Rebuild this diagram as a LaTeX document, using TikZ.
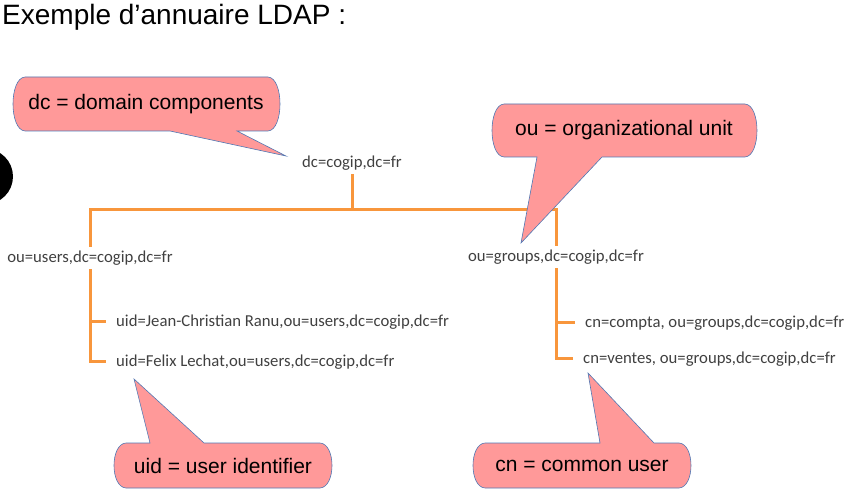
\documentclass[tikz,border=0pt]{standalone}
\usepackage{fontspec}
\setmainfont{Liberation Sans}
\newfontfamily\entryfont{Carlito}
\definecolor{branchorange}{RGB}{248,150,60}
\definecolor{bubblefill}{RGB}{255,153,153}
\definecolor{bubbleline}{RGB}{80,120,180}
\definecolor{entrygray}{RGB}{64,64,64}
\begin{document}
\begin{tikzpicture}[x=1pt,y=-1pt,line width=0.4pt,
  entry/.style={font=\entryfont\fontsize{16.7}{20}\selectfont,text=entrygray,inner sep=4pt},
  note/.style={font=\fontsize{21}{24}\selectfont,inner sep=0pt},
  branch/.style={draw=branchorange,line width=3pt},
  bubble/.style={fill=bubblefill,draw=bubbleline,line width=0.6pt}]
\useasboundingbox (0,0) rectangle (847,497);
\node[anchor=base west,font=\fontsize{28}{32}\selectfont,inner sep=0pt] (title) at (2,25) {Exemple d’annuaire LDAP :};
\fill (-14.7,176.5) circle[radius=27.7];
% entries
\node[entry] (root) at (352,163) {dc=cogip,dc=fr};
\node[entry] (users) at (90,258) {ou=users,dc=cogip,dc=fr};
\node[entry] (groups) at (556,257) {ou=groups,dc=cogip,dc=fr};
\node[entry,anchor=west] (jean) at (112,322) {uid=Jean-Christian Ranu,ou=users,dc=cogip,dc=fr};
\node[entry,anchor=west] (felix) at (112,362) {uid=Felix Lechat,ou=users,dc=cogip,dc=fr};
\node[entry,anchor=west] (compta) at (581,323) {cn=compta, ou=groups,dc=cogip,dc=fr};
\node[entry,anchor=west] (ventes) at (579,359) {cn=ventes, ou=groups,dc=cogip,dc=fr};
% tree
\coordinate (J) at (352,210);
\draw[branch] (root.south) -- (J);
\draw[branch] (users.north) |- (J) -| (groups.north);
\draw[branch,shorten >=6pt] (users.south) |- (felix.west);
\draw[branch,shorten >=6pt] (jean.west -| users.south) -- (jean.west);
\draw[branch,shorten >=6pt] (groups.south) |- (ventes.west);
\draw[branch,shorten >=6pt] (compta.west -| groups.south) -- (compta.west);
% callouts
\draw[bubble] (25,77) -- (268,77) .. controls (284,78) and (284,130) .. (268,131) -- (237,131) -- (286,156) -- (170,131) -- (25,131) .. controls (9,130) and (9,78) .. (25,77) -- cycle;
\draw[bubble] (504,104) -- (745,104) .. controls (761,105) and (761,156) .. (745,157) -- (602,157) -- (521,243) -- (537,157) -- (504,157) .. controls (488,156) and (488,105) .. (504,104) -- cycle;
\draw[bubble] (126,443) -- (150,443) -- (134,379) -- (204,443) -- (320,443) .. controls (336,444) and (336,487) .. (320,488) -- (126,488) .. controls (110,487) and (110,444) .. (126,443) -- cycle;
\draw[bubble] (485,443) -- (600,443) -- (588,373) -- (654,443) -- (679,443) .. controls (695,444) and (695,487) .. (679,488) -- (485,488) .. controls (469,487) and (469,444) .. (485,443) -- cycle;
\node[note] (dcnote) at (146,104) {dc = domain components};
\node[note] (ounote) at (624,130) {ou = organizational unit};
\node[note] (uidnote) at (223,466) {uid = user identifier};
\node[note] (cnnote) at (582,466) {cn = common user};
\end{tikzpicture}
\end{document}
